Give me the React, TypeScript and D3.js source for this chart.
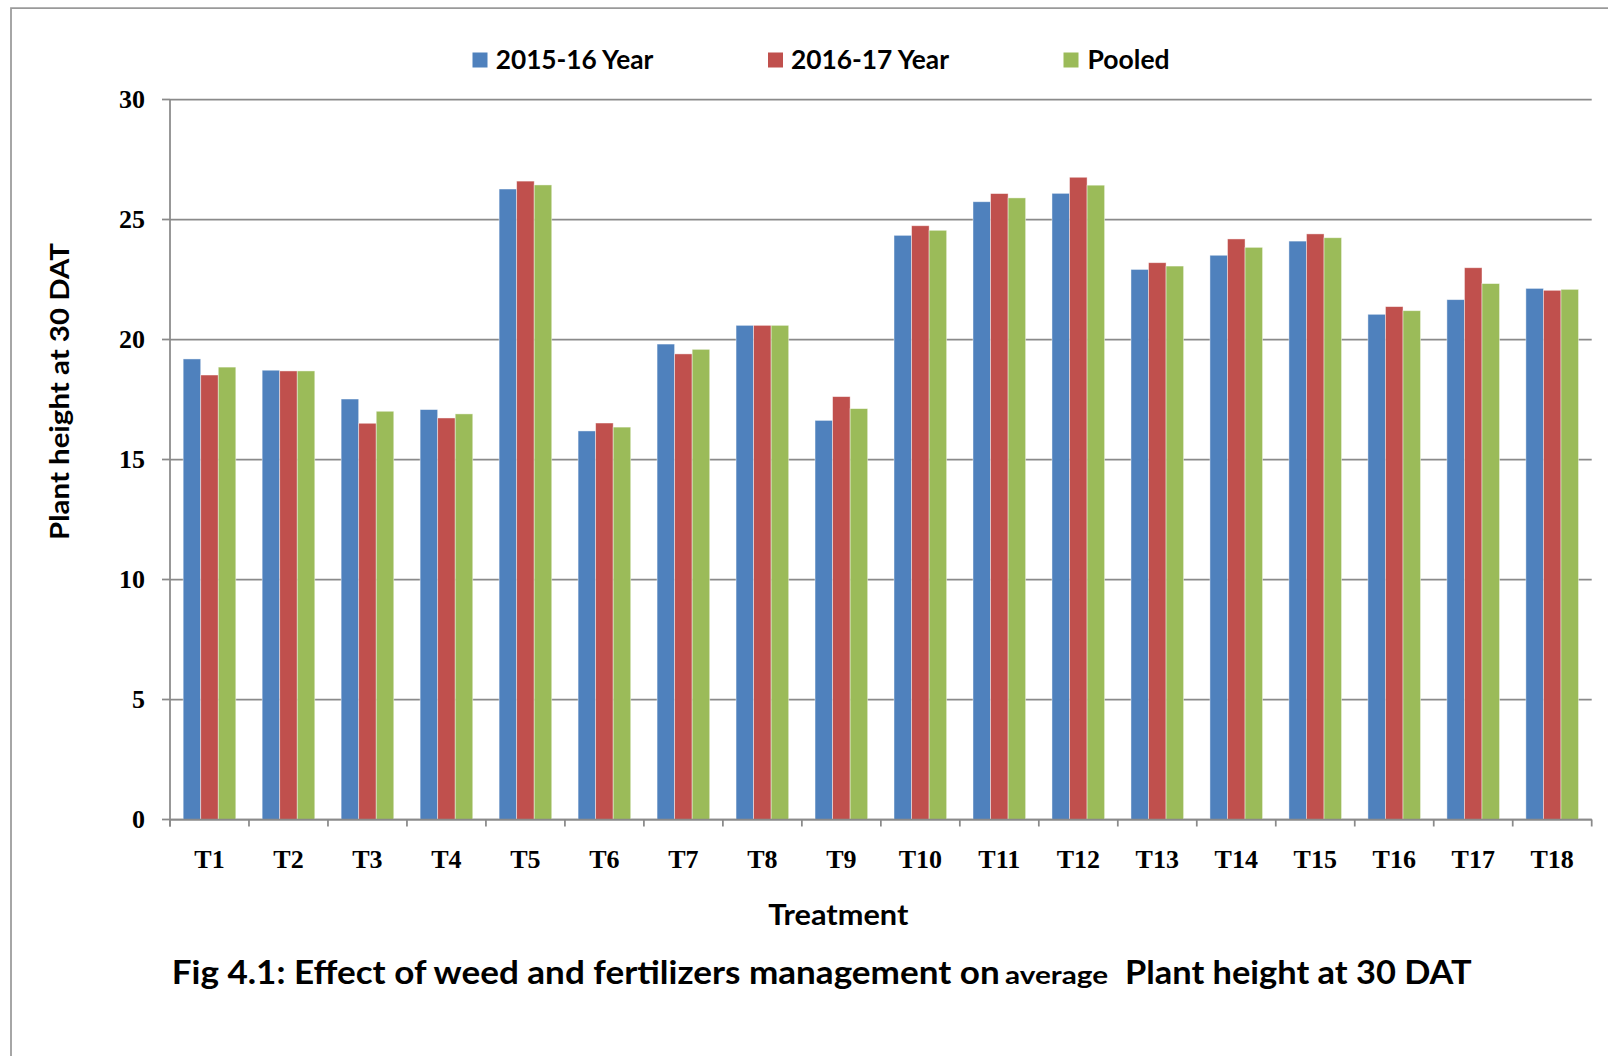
import React from "react";
import * as d3 from "d3";

const categories = ["T1","T2","T3","T4","T5","T6","T7","T8","T9","T10","T11","T12","T13","T14","T15","T16","T17","T18"];
const seriesNames = ["2015-16 Year", "2016-17 Year", "Pooled"];
const year1516 = [19.19,18.72,17.52,17.08,26.27,16.19,19.81,20.59,16.63,24.34,25.74,26.09,22.92,23.51,24.10,21.05,21.66,22.13];
const year1617 = [18.52,18.69,16.51,16.73,26.60,16.52,19.40,20.59,17.62,24.74,26.08,26.76,23.20,24.19,24.40,21.37,22.99,22.05];
const pooled   = [18.85,18.69,17.01,16.90,26.44,16.35,19.59,20.59,17.12,24.55,25.90,26.43,23.06,23.84,24.24,21.20,22.33,22.09];
const yTicks = [0, 5, 10, 15, 20, 25, 30];
const colors = ["#4F81BD", "#C0504D", "#9BBB59"];

const seriesValues = [year1516, year1617, pooled];

const SANS = "Lato, 'Open Sans', 'Noto Sans', sans-serif";
const SERIF = "'Liberation Serif', 'Times New Roman', serif";

export default function App() {
  const left = 170, right = 1591.7, top = 99.5, bottom = 819.5;
  const x0 = d3.scaleBand<string>().domain(categories).range([left, right]).paddingInner(0).paddingOuter(0);
  const x1 = d3.scaleBand<string>().domain(seriesNames).range([0, x0.bandwidth()]).paddingInner(0).paddingOuter(0.75);
  const y = d3.scaleLinear().domain([0, 30]).range([bottom, top]);
  const gridColor = "#8a8a8a";

  const boundaries = categories.map((c) => x0(c) as number).concat([right]);

  const legendItems = [
    { sx: 472.5, tx: 495.7, tl: 157.6 },
    { sx: 768, tx: 791, tl: 158 },
    { sx: 1063.5, tx: 1087.6, tl: 82 },
  ];

  return (
    <svg width={1608} height={1056} style={{ position: "absolute", left: 0, top: 0, background: "#fff" }}>
      <rect x={0} y={0} width={1608} height={1056} fill="#fff" />
      {/* outer frame */}
      <path d="M11,1056 L11,8 L1608,8" fill="none" stroke="#9a9a9a" strokeWidth={1.75} />

      {/* legend */}
      {seriesNames.map((s, i) => (
        <g key={s}>
          <rect x={legendItems[i].sx} y={52.5} width={15} height={15} fill={colors[i]} />
          <text x={legendItems[i].tx} y={68.5} fontFamily={SANS} fontWeight={700} fontSize={27.5}
            textLength={legendItems[i].tl} lengthAdjust="spacingAndGlyphs" fill="#000">{s}</text>
        </g>
      ))}

      {/* gridlines */}
      {yTicks.map((t) => (
        <line key={"g" + t} x1={left} x2={right} y1={y(t)} y2={y(t)} stroke={gridColor} strokeWidth={1.75} />
      ))}
      {/* y ticks & labels */}
      {yTicks.map((t) => (
        <g key={"yt" + t}>
          <line x1={162} x2={left} y1={y(t)} y2={y(t)} stroke={gridColor} strokeWidth={1.75} />
          <text x={145} y={y(t)} dy="0.34em" textAnchor="end" fontFamily={SERIF} fontWeight={700} fontSize={26} fill="#000">{t}</text>
        </g>
      ))}

      {/* bars */}
      {categories.map((c, ci) => (
        <g key={c} transform={`translate(${x0(c)},0)`}>
          {seriesNames.map((s, si) => {
            const v = seriesValues[si][ci];
            return (
              <rect key={s} x={x1(s)} y={y(v)} width={x1.bandwidth()} height={y(0) - y(v)}
                fill={colors[si]} stroke="rgba(255,255,255,0.55)" strokeWidth={0.8} />
            );
          })}
        </g>
      ))}

      {/* axes */}
      <line x1={left} x2={left} y1={top} y2={bottom + 7} stroke={gridColor} strokeWidth={1.75} />
      <line x1={left} x2={right} y1={bottom} y2={bottom} stroke={gridColor} strokeWidth={1.75} />
      {boundaries.map((b, i) => (
        <line key={"xt" + i} x1={b} x2={b} y1={bottom} y2={bottom + 7} stroke={gridColor} strokeWidth={1.75} />
      ))}
      {categories.map((c) => (
        <text key={"xl" + c} x={(x0(c) as number) + x0.bandwidth() / 2} y={868} textAnchor="middle"
          fontFamily={SERIF} fontWeight={700} fontSize={26} fill="#000">{c}</text>
      ))}

      {/* axis titles */}
      <text x={838.3} y={925} textAnchor="middle" fontFamily={SANS} fontWeight={700} fontSize={28}
        textLength={140} lengthAdjust="spacingAndGlyphs" fill="#000">Treatment</text>
      <text transform="translate(69,391.5) rotate(-90)" textAnchor="middle" fontFamily={SANS} fontWeight={700} fontSize={27.5}
        textLength={297} lengthAdjust="spacingAndGlyphs" fill="#000">Plant height at 30 DAT</text>

      {/* caption */}
      <text x={171.7} y={984} fontFamily={SANS} fontWeight={700} fontSize={32}
        textLength={828} lengthAdjust="spacingAndGlyphs" fill="#000">Fig 4.1: Effect of weed and fertilizers management on</text>
      <text x={1005} y={984} fontFamily={SANS} fontWeight={700} fontSize={25}
        textLength={103} lengthAdjust="spacingAndGlyphs" fill="#000">average</text>
      <text x={1125} y={984} fontFamily={SANS} fontWeight={700} fontSize={32}
        textLength={346.7} lengthAdjust="spacingAndGlyphs" fill="#000">Plant height at 30 DAT</text>
    </svg>
  );
}
